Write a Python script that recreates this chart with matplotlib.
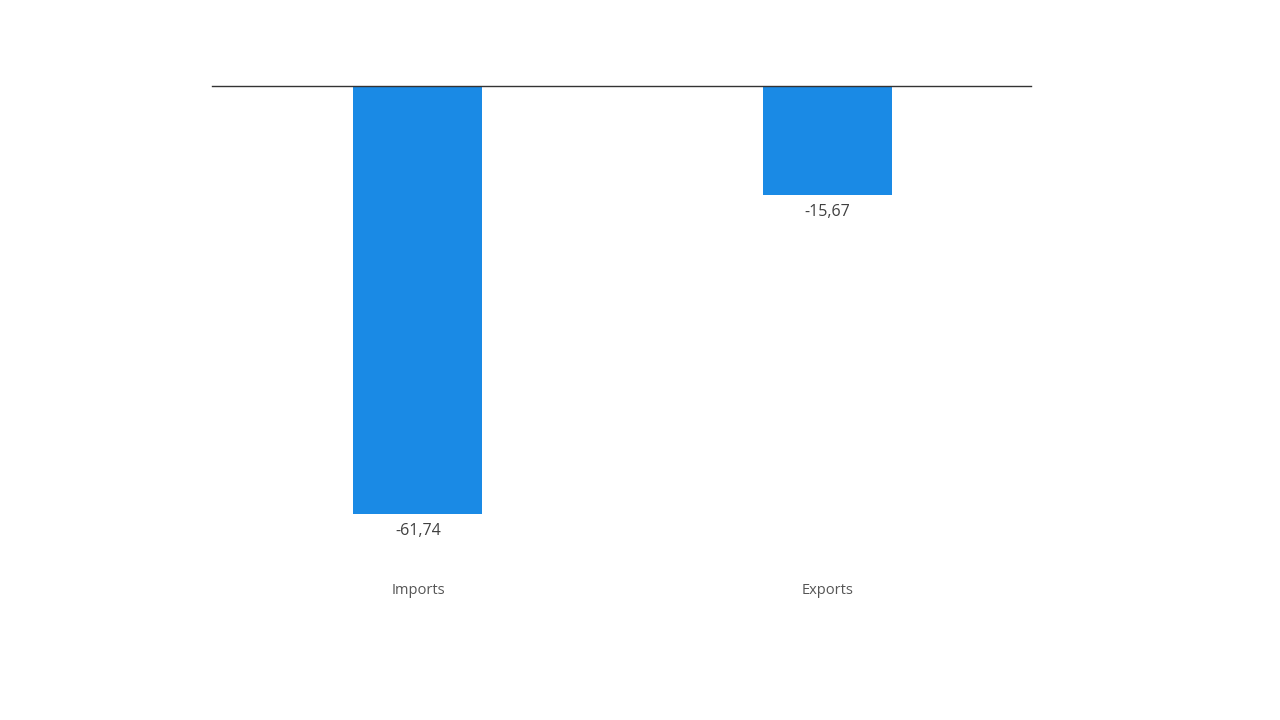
import matplotlib
matplotlib.use("Agg")
from matplotlib import pyplot as plt
import matplotlib.transforms as mtransforms

# data
categories = ["Imports", "Exports"]
values = [-61.74, -15.67]
value_labels = ["-61,74", "-15,67"]

plt.rcParams['font.family'] = ['Open Sans', 'DejaVu Sans']

fig = plt.figure(figsize=(12.8, 7.2), dpi=100)
ax = fig.add_axes([212/1280, 1 - 600/720, (1031 - 212)/1280, (600 - 86)/720])

x = range(len(categories))
ax.bar(x, values, width=0.315, color="#1a8ae5")
ax.set_xlim(-0.503, 1.497)
ax.set_ylim(-74.2, 0)

for s in ["left", "right", "bottom"]:
    ax.spines[s].set_visible(False)
ax.spines["top"].set_color("#333333")
ax.spines["top"].set_linewidth(1.0)
ax.set_xticks([])
ax.set_yticks([])

# value labels under each bar
for xi, v, lab in zip(x, values, value_labels):
    ax.annotate(lab, (xi, v), xytext=(0, -6.5), textcoords="offset points",
                ha="center", va="top", fontsize=11.5, color="#404040")

# category labels
trans = mtransforms.blended_transform_factory(ax.transData, ax.transAxes)
for xi, c in zip(x, categories):
    ax.text(xi, (600 - 591)/514, c, transform=trans, ha="center", va="center",
            fontsize=10.5, color="#555555")

fig.savefig("out.png", dpi=100)
